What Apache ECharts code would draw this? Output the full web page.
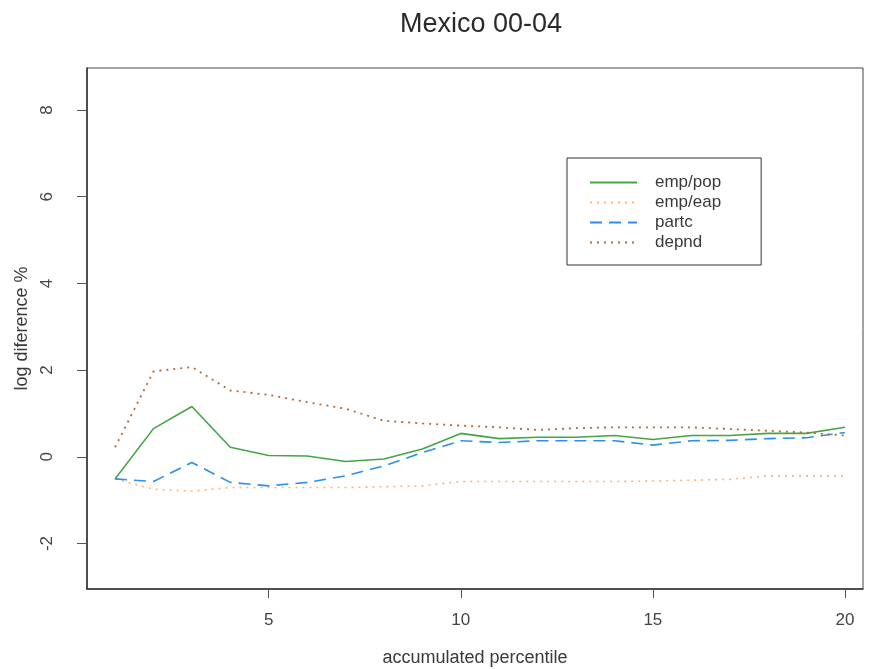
<!DOCTYPE html>
<html>
<head>
<meta charset="utf-8">
<script src="https://cdn.jsdelivr.net/npm/echarts@6/dist/echarts.min.js"></script>
<style>
  html, body { margin: 0; padding: 0; background: #fff; }
  #chart { width: 869px; height: 669px; }
</style>
</head>
<body>
<div id="chart"></div>
<script>
// Accumulated percentile (x) and log differences in % for each ratio
const percentiles = [1, 2, 3, 4, 5, 6, 7, 8, 9, 10, 11, 12, 13, 14, 15, 16, 17, 18, 19, 20];
const empPop = [-0.51, 0.65, 1.16, 0.22, 0.03, 0.02, -0.11, -0.05, 0.18, 0.54, 0.42, 0.45, 0.45, 0.49, 0.40, 0.49, 0.49, 0.54, 0.54, 0.68];
const empEap = [-0.51, -0.75, -0.79, -0.71, -0.71, -0.71, -0.71, -0.69, -0.67, -0.57, -0.57, -0.57, -0.57, -0.57, -0.56, -0.54, -0.52, -0.44, -0.44, -0.44];
const partc  = [-0.51, -0.57, -0.13, -0.59, -0.67, -0.59, -0.44, -0.21, 0.10, 0.37, 0.33, 0.37, 0.37, 0.37, 0.27, 0.37, 0.38, 0.42, 0.44, 0.56];
const depnd  = [0.22, 1.97, 2.07, 1.53, 1.43, 1.26, 1.11, 0.83, 0.77, 0.72, 0.68, 0.62, 0.66, 0.68, 0.68, 0.68, 0.64, 0.60, 0.56, 0.49];

const xTicks = [5, 10, 15, 20];
const yTicks = [-2, 0, 2, 4, 6, 8];

const pairs = (ys) => percentiles.map((x, i) => [x, ys[i]]);
const FONT = 'Liberation Sans, Arial, sans-serif';

const chart = echarts.init(document.getElementById('chart'), null, { renderer: 'canvas' });

chart.setOption({
  animation: false,
  backgroundColor: '#ffffff',
  title: {
    text: 'Mexico 00-04',
    left: 476,
    top: 6,
    textAlign: 'center',
    textStyle: { fontFamily: FONT, fontSize: 27, fontWeight: 'normal', color: '#2a2a2a' }
  },
  grid: {
    left: 87, right: 6, top: 68, bottom: 80,
    outerBoundsMode: 'none',
    show: true, borderColor: '#444', borderWidth: 1, backgroundColor: 'transparent'
  },
  legend: {
    orient: 'vertical',
    left: 567, top: 158,
    padding: [16, 40, 14, 22],
    itemGap: 3,
    itemWidth: 47,
    itemHeight: 14,
    borderColor: '#333',
    borderWidth: 1,
    backgroundColor: '#fff',
    itemStyle: { opacity: 0 },
    textStyle: { fontFamily: FONT, fontSize: 17, lineHeight: 17, color: '#3a3a3a', padding: [0, 0, 0, 13] },
    data: ['emp/pop', 'emp/eap', 'partc', 'depnd']
  },
  xAxis: {
    type: 'value',
    min: 0.27, max: 20.47,
    name: 'accumulated percentile',
    nameLocation: 'middle',
    nameGap: 60,
    nameTextStyle: { fontFamily: FONT, fontSize: 18, color: '#3a3a3a' },
    splitLine: { show: false },
    axisLine: { show: true, onZero: false, lineStyle: { color: '#333', width: 1.5 } },
    axisTick: { show: true, length: 9, customValues: xTicks, lineStyle: { color: '#555' } },
    axisLabel: { customValues: xTicks, margin: 23, fontFamily: FONT, fontSize: 17, color: '#444' }
  },
  yAxis: {
    type: 'value',
    min: -3.05, max: 8.97,
    name: 'log diference %',
    nameLocation: 'middle',
    nameGap: 54,
    nameRotate: 90,
    nameTextStyle: { fontFamily: FONT, fontSize: 18, color: '#3a3a3a' },
    splitLine: { show: false },
    axisLine: { show: true, onZero: false, lineStyle: { color: '#333', width: 1.5 } },
    axisTick: { show: true, length: 10, customValues: yTicks, lineStyle: { color: '#555' } },
    axisLabel: { customValues: yTicks, rotate: 90, margin: 31, fontFamily: FONT, fontSize: 17, color: '#444' }
  },
  series: [
    {
      name: 'emp/pop', type: 'line', data: pairs(empPop), symbol: 'none',
      itemStyle: { color: '#45a545' },
      lineStyle: { color: '#45a545', width: 1.6, type: 'solid' }
    },
    {
      name: 'emp/eap', type: 'line', data: pairs(empEap), symbol: 'none',
      itemStyle: { color: '#ffb272' },
      lineStyle: { color: '#ffb272', width: 1.6, type: [2, 5] }
    },
    {
      name: 'partc', type: 'line', data: pairs(partc), symbol: 'none',
      itemStyle: { color: '#2b8ef0' },
      lineStyle: { color: '#2b8ef0', width: 1.6, type: [12, 7] }
    },
    {
      name: 'depnd', type: 'line', data: pairs(depnd), symbol: 'none',
      itemStyle: { color: '#b06a3a' },
      lineStyle: { color: '#b06a3a', width: 1.8, type: [2, 5] }
    }
  ]
});
</script>
</body>
</html>
